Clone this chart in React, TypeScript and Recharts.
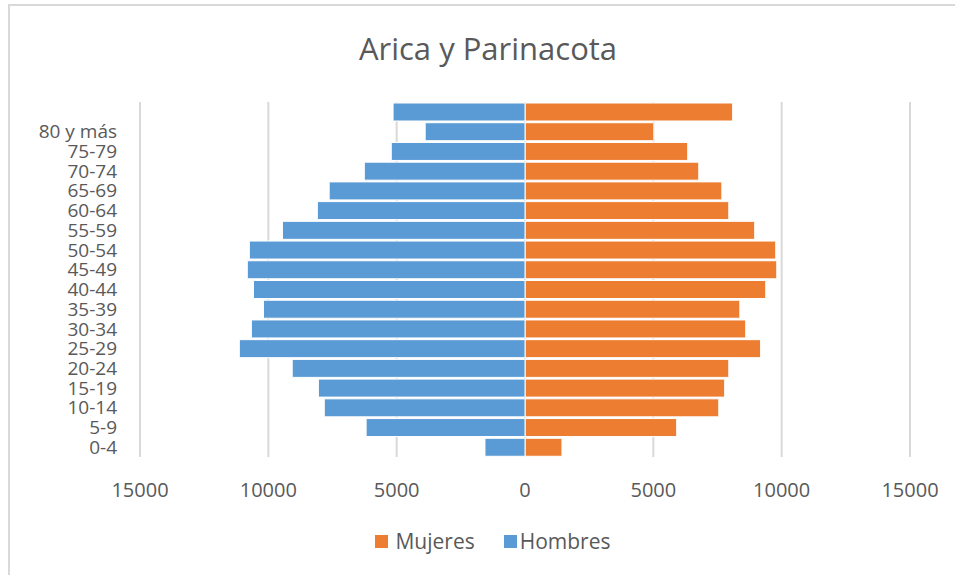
import { BarChart, Bar, XAxis, YAxis, CartesianGrid } from "recharts";

// grupos de edad (la primera fila no tiene etiqueta en el original)
const ageGroups = [
  "",
  "80 y más",
  "75-79",
  "70-74",
  "65-69",
  "60-64",
  "55-59",
  "50-54",
  "45-49",
  "40-44",
  "35-39",
  "30-34",
  "25-29",
  "20-24",
  "15-19",
  "10-14",
  "5-9",
  "0-4",
];

const hombres = [
  5140, 3890, 5210, 6260, 7630, 8090, 9450, 10740, 10820, 10580, 10190, 10660,
  11130, 9070, 8050, 7820, 6190, 1560,
];

const mujeres = [
  8090, 5020, 6340, 6770, 7670, 7940, 8950, 9770, 9810, 9380, 8370, 8600, 9180,
  7940, 7780, 7550, 5910, 1440,
];

const xTicks = [-15000, -10000, -5000, 0, 5000, 10000, 15000];

const data = ageGroups.map((age, i) => ({
  age,
  Mujeres: mujeres[i],
  Hombres: -hombres[i],
}));

const FONT = "'Open Sans', 'Liberation Sans', sans-serif";
const TEXT = "#595959";

const App = () => {
  return (
    <div
      style={{
        position: "absolute",
        left: 0,
        top: 0,
        width: 955,
        height: 575,
        overflow: "hidden",
        background: "#fff",
        fontFamily: FONT,
      }}
    >
      <div
        style={{
          position: "absolute",
          left: 8,
          top: 4,
          width: 980,
          height: 600,
          border: "2px solid #d9d9d9",
          boxSizing: "border-box",
        }}
      />
      <div
        style={{
          position: "absolute",
          left: 0,
          top: 30,
          width: 976,
          textAlign: "center",
          fontSize: 31,
          lineHeight: "36px",
          color: TEXT,
        }}
      >
        Arica y Parinacota
      </div>
      <BarChart
        width={955}
        height={575}
        data={data}
        layout="vertical"
        stackOffset="sign"
        barCategoryGap={1}
        margin={{ top: 102, right: 45, left: 20, bottom: 88 }}
        style={{ position: "absolute", left: 0, top: 0, fontFamily: FONT }}
      >
        <CartesianGrid horizontal={false} stroke="#d9d9d9" strokeWidth={2} />
        <XAxis
          type="number"
          domain={[-15000, 15000]}
          ticks={xTicks}
          tickFormatter={(v) => `${Math.abs(v)}`}
          axisLine={false}
          tickLine={false}
          tickSize={0}
          tickMargin={26}
          height={30}
          tick={{ fill: TEXT, fontSize: 20 }}
        />
        <YAxis
          type="category"
          dataKey="age"
          width={120}
          axisLine={false}
          tickLine={false}
          tickSize={0}
          tickMargin={23}
          interval={0}
          tick={{ fill: TEXT, fontSize: 19 }}
        />
        <Bar
          dataKey="Mujeres"
          stackId="a"
          fill="#ED7D31"
          stroke="#fff"
          strokeWidth={1}
          isAnimationActive={false}
        />
        <Bar
          dataKey="Hombres"
          stackId="a"
          fill="#5B9BD5"
          stroke="#fff"
          strokeWidth={1}
          isAnimationActive={false}
        />
      </BarChart>
      <div
        style={{
          position: "absolute",
          left: 0,
          top: 527,
          width: 986,
          display: "flex",
          justifyContent: "center",
          alignItems: "center",
          fontSize: 21,
          lineHeight: "28px",
          color: TEXT,
        }}
      >
        <span style={{ width: 13, height: 13, background: "#ED7D31", marginRight: 7 }} />
        <span style={{ marginRight: 29 }}>Mujeres</span>
        <span style={{ width: 13, height: 13, background: "#5B9BD5", marginRight: 3 }} />
        <span>Hombres</span>
      </div>
    </div>
  );
};

export default App;
